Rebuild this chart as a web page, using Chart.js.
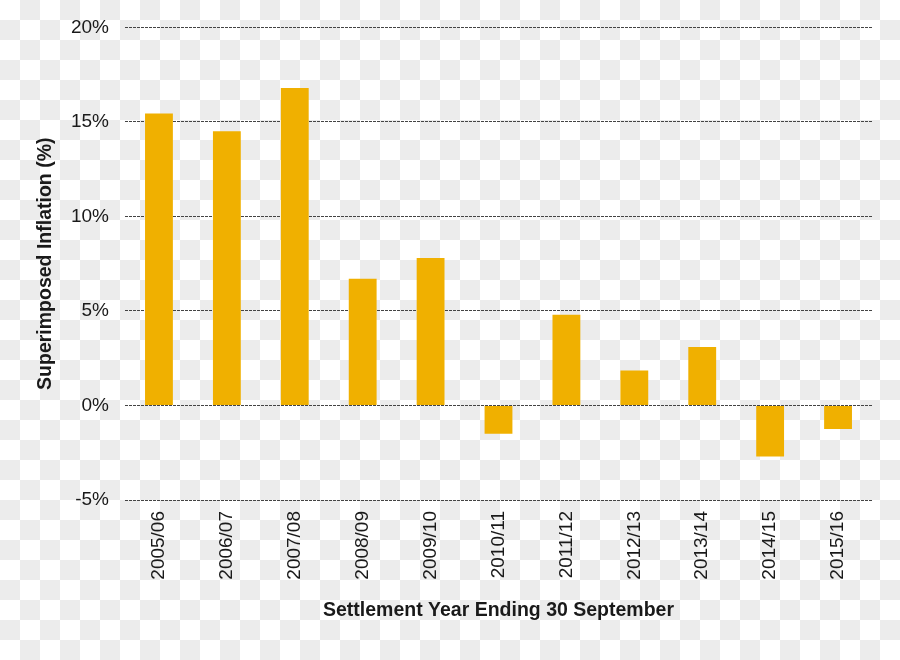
<!DOCTYPE html>
<html>
<head>
<meta charset="utf-8">
<script src="https://cdn.jsdelivr.net/npm/chart.js@4/dist/chart.umd.min.js"></script>
<style>
  html, body { margin: 0; padding: 0; }
  body {
    width: 900px; height: 660px; overflow: hidden;
    background: repeating-conic-gradient(#ececec 0 25%, #ffffff 0 50%) 0 0 / 40px 40px;
  }
  canvas { display: block; }
</style>
</head>
<body>
<canvas id="c" width="900" height="660"></canvas>
<script>
const categories = ['2005/06','2006/07','2007/08','2008/09','2009/10','2010/11','2011/12','2012/13','2013/14','2014/15','2015/16'];
const inflationValues = [15.45, 14.5, 16.8, 6.7, 7.8, -1.5, 4.8, 1.85, 3.1, -2.7, -1.25];
const yTicks = [-5, 0, 5, 10, 15, 20];
const yTitle = 'Superimposed Inflation (%)';
const xTitle = 'Settlement Year Ending 30 September';

const FONT = "'Liberation Sans', Arial, sans-serif";
const TXT = '#1a1a1a';

new Chart(document.getElementById('c'), {
  type: 'bar',
  data: {
    labels: categories,
    datasets: [{
      data: inflationValues,
      backgroundColor: '#F0B000',
      borderWidth: 0,
      barPercentage: 0.41,
      categoryPercentage: 1.0
    }]
  },
  options: {
    responsive: false,
    animation: false,
    devicePixelRatio: 1,
    layout: { padding: { top: 27, right: 28, bottom: 0, left: 0 } },
    plugins: { legend: { display: false }, tooltip: { enabled: false } },
    scales: {
      x: {
        grid: { display: false, drawTicks: false },
        border: { display: false },
        ticks: {
          color: TXT, font: { family: FONT, size: 19 },
          minRotation: 90, maxRotation: 90, padding: 11, autoSkip: false
        },
        title: {
          display: true, text: xTitle, color: TXT,
          font: { family: FONT, size: 19.5, weight: 'bold' },
          padding: { top: 0, bottom: 38 }
        },
        afterFit: (s) => { s.height = 160; }
      },
      y: {
        min: -5, max: 20,
        afterBuildTicks: (s) => { s.ticks = yTicks.map(v => ({ value: v })); },
        grid: { color: '#444444', lineWidth: 1, drawTicks: false },
        border: { display: false, dash: [3, 1] },
        ticks: {
          color: TXT, font: { family: FONT, size: 19 }, padding: 16,
          callback: (v) => v + '%'
        },
        title: {
          display: true, text: yTitle, color: TXT,
          font: { family: FONT, size: 19.5, weight: 'bold' },
          padding: { top: 34, bottom: 0 }
        },
        afterFit: (s) => { s.width = 125; }
      }
    }
  }
});
</script>
</body>
</html>
